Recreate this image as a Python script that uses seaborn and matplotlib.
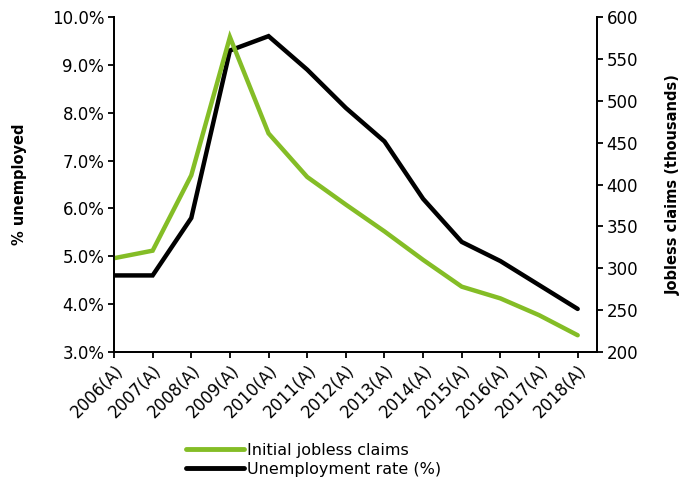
import numpy as np
import pandas as pd
import seaborn as sns
import matplotlib.pyplot as plt
from matplotlib.lines import Line2D

# data
years = ['2006(A)', '2007(A)', '2008(A)', '2009(A)', '2010(A)', '2011(A)', '2012(A)',
         '2013(A)', '2014(A)', '2015(A)', '2016(A)', '2017(A)', '2018(A)']
unemployment_rate = [4.6, 4.6, 5.8, 9.3, 9.6, 8.9, 8.1, 7.4, 6.2, 5.3, 4.9, 4.4, 3.9]
jobless_claims = [312, 321, 411, 576, 461, 409, 376, 344, 310, 278, 264, 244, 220]

df = pd.DataFrame({'pos': np.arange(len(years)), 'year': years,
                   'rate': unemployment_rate, 'claims': jobless_claims})

sns.set_style('ticks')
plt.rcParams['font.family'] = ['DejaVu Sans']
plt.rcParams['text.color'] = 'black'
plt.rcParams['axes.labelcolor'] = 'black'
green = '#84BD26'

fig = plt.figure(figsize=(6.83, 4.84), dpi=100)
ax = fig.add_axes([114 / 683, 1 - 352 / 484, (597 - 114) / 683, (352 - 17) / 484])
ax2 = ax.twinx()

sns.lineplot(data=df, x='pos', y='rate', ax=ax, color='black', linewidth=3.2,
             solid_capstyle='round', solid_joinstyle='miter')
sns.lineplot(data=df, x='pos', y='claims', ax=ax2, color=green, linewidth=3.2,
             solid_capstyle='round', solid_joinstyle='miter')

ax.set_xlim(0, 12.5)
ax.set_ylim(3, 10)
ax2.set_ylim(200, 600)
ax.set_yticks(np.arange(3, 10.01, 1))
ax.set_yticklabels([f'{v:.1f}%' for v in np.arange(3, 10.01, 1)])
ax2.set_yticks(np.arange(200, 601, 50))
ax.set_xticks(df['pos'])
ax.set_xticklabels(years, rotation=45, ha='right', rotation_mode='anchor')

ax.set_xlabel('')
ax.set_ylabel('% unemployed', fontsize=10.5, fontweight='bold', labelpad=18, color='black')
ax2.set_ylabel('Jobless claims (thousands)', fontsize=10.5, fontweight='bold', labelpad=20,
               color='black')

for a in (ax, ax2):
    a.spines['top'].set_visible(False)
    for s in a.spines.values():
        s.set_linewidth(1.3)
        s.set_color('black')
    a.tick_params(axis='both', labelsize=12, length=4, width=1.3, colors='black', pad=3)
    a.grid(False)

handles = [Line2D([0], [0], color=green, lw=3.5, solid_capstyle='round'),
           Line2D([0], [0], color='black', lw=3.5, solid_capstyle='round')]
fig.legend(handles, ['Initial jobless claims', 'Unemployment rate (%)'],
           loc='upper left', bbox_to_anchor=(186 / 683, 1 - 443 / 484), frameon=False,
           fontsize=11.5, handlelength=3.6, handletextpad=0.25, labelspacing=0.25,
           borderaxespad=0, borderpad=0)

fig.savefig('out.png', dpi=100)
